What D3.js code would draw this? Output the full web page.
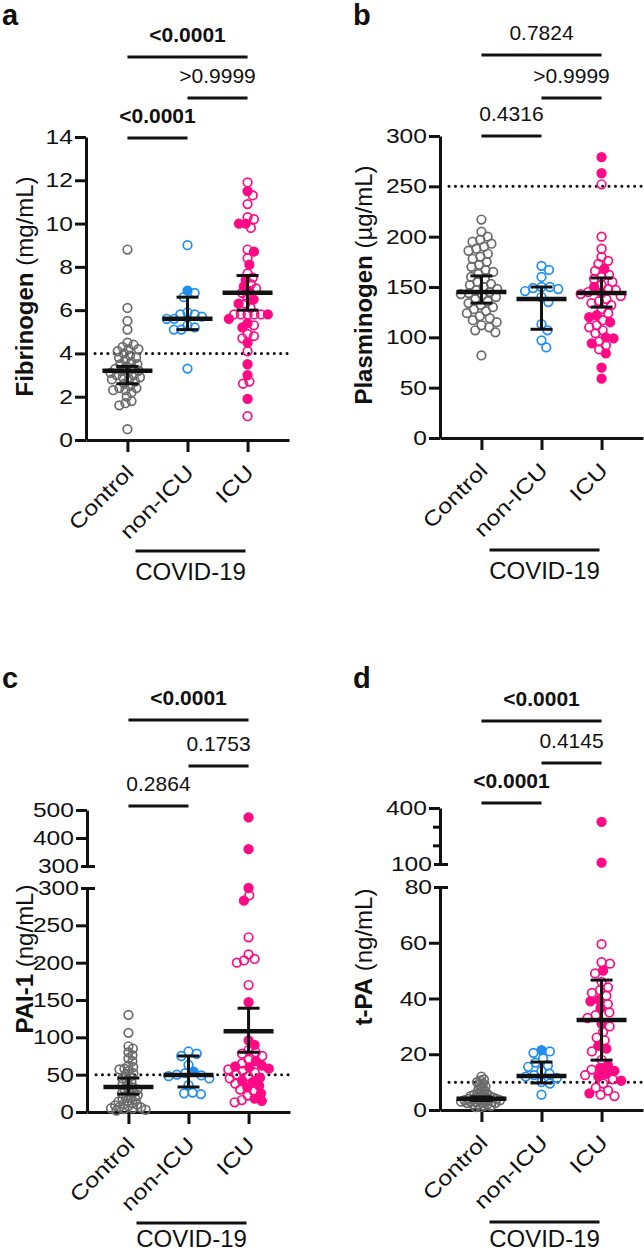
<!DOCTYPE html>
<html><head><meta charset="utf-8">
<script src="https://cdn.jsdelivr.net/npm/d3@7"></script>
<style>body{margin:0;background:#fff} svg{display:block} text{font-family:Arial,"Liberation Sans",sans-serif;fill:#111}</style>
</head><body>
<svg id="chart" width="644" height="1253"></svg>
<script>
const categories = ["Control", "non-ICU", "ICU"];

// ---- panel a: Fibrinogen (mg/mL)
const fibControl = [8.8,6.1,5.5,5.1,4.5,4.4,4.3,4.2,4.2,4.1,4.0,3.9,3.8,3.8,3.7,3.6,3.5,3.5,3.4,3.3,3.3,3.2,3.2,3.1,3.1,3.0,3.0,2.9,2.9,2.8,2.8,2.7,2.6,2.5,2.4,2.4,2.3,2.3,2.2,2.0,1.8,1.7,1.6,0.5];
const fibNonICU = [9.0,6.8,6.6,5.9,5.8,5.8,5.7,5.6,5.6,5.3,5.2,5.1,5.1,3.3];
const fibNonICUFilled = [6.9];
const fibICU = [11.9,11.3,10.9,10.3,10.2,9.8,8.8,8.4,7.7,7.5,7.2,7.0,6.8,6.6,6.3,6.1,5.8,5.8,5.8,5.8,5.8,5.3,4.9,4.8,4.7,4.1,2.7,2.6,1.1];
const fibICUFilled = [11.5,10.0,10.0,8.7,8.1,7.4,7.1,6.9,6.5,6.3,5.8,5.6,5.4,5.2,4.5,3.5,3.0,1.9];
const fibCenter = [3.2, 5.6, 6.8];
const fibLow = [2.6, 5.1, 6.0];
const fibHigh = [3.4, 6.6, 7.6];
const fibTicks = [0,2,4,6,8,10,12,14];
const fibRef = 4;
const fibP = ["<0.0001", ">0.9999", "<0.0001"];   // ICU vs Control, ICU vs non-ICU, non-ICU vs Control
const fibPBold = [true, false, true];

// ---- panel b: Plasminogen (µg/mL)
const plgControl = [217,205,200,197,195,193,190,188,186,183,180,178,175,172,170,167,165,163,160,158,155,153,152,150,148,147,145,144,143,142,140,138,136,134,132,130,128,126,124,121,119,117,115,112,110,107,105,82];
const plgNonICU = [171,167,160,150,150,149,148,146,140,135,113,107,97,90];
const plgNonICUFilled = [];
const plgICU = [252,200,188,180,176,173,166,162,160,158,155,152,148,147,145,143,141,138,136,134,132,128,124,117,112,110,107,104,96,92,88];
const plgICUFilled = [279,263,168,150,144,122,120,115,100,99,94,84,70,59];
const plgCenter = [145, 138, 144];
const plgLow = [134, 108, 130];
const plgHigh = [161, 150, 159];
const plgTicks = [0,50,100,150,200,250,300];
const plgRef = 250;
const plgP = ["0.7824", ">0.9999", "0.4316"];
const plgPBold = [false, false, false];

// ---- panel c: PAI-1 (ng/mL)
const paiControl = [130,106,88,85,80,76,72,68,62,60,58,57,55,52,50,47,45,42,40,38,35,33,31,30,28,26,25,23,22,20,18,17,15,14,12,11,10,9,8,7,6,5,5,4,3,2];
const paiNonICU = [81,78,75,63,52,50,49,48,45,36,26,25,24];
const paiNonICUFilled = [54];
const paiICU = [290,234,211,205,203,200,170,83,80,78,75,70,65,57,55,53,50,48,45,38,30,28,22,16,13];
const paiICUFilled = [474,360,300,283,147,96,90,68,62,61,60,58,46,42,40,35,33,25,18,15];
const paiCenter = [33.5, 49.5, 108];
const paiLow = [24, 33.5, 80];
const paiHigh = [45.5, 75, 139];
const paiTicksLower = [0,50,100,150,200,250,300];
const paiTicksUpper = [300,400,500];
const paiRef = 50;
const paiP = ["<0.0001", "0.1753", "0.2864"];
const paiPBold = [true, false, false];

// ---- panel d: t-PA (ng/mL)
const tpaControl = [12,11,10.5,10,9.5,9,8.5,8,7.5,7,6.5,6,6,5.5,5.5,5,5,5,4.5,4.5,4.5,4,4,4,4,3.5,3.5,3.5,3.5,3,3,3,3,3,2.5,2.5,2.5,2,2,2,1.5,1.5,1,1];
const tpaNonICU = [21,20.5,18.5,17,16,15.5,14,13,12.5,12,11.5,10,9.5,5.5];
const tpaNonICUFilled = [21.5];
const tpaICU = [59.5,53,52.5,49,46,44,43,42,41,38,35,34,33,30,28,26,25,21,18,14.5,12.5,11,9.5,8,7,5.5,5];
const tpaICUFilled = [326,107,50,39.5,39,36.5,31,23,22,16,15,14,13,12,10.5,6];
const tpaCenter = [4.0, 12.2, 32.3];
const tpaLow = [3.4, 9.7, 17.9];
const tpaHigh = [4.7, 17.2, 46.6];
const tpaTicksLower = [0,20,40,60,80];
const tpaTicksUpper = [100,200,300,400];
const tpaUpperLabels = [100,400];
const tpaRef = 10;
const tpaP = ["<0.0001", "0.4145", "<0.0001"];
const tpaPBold = [true, false, true];

// ---------------------------------------------------------------
const svg = d3.select("#chart");
const colors = ["#6b6b6b", "#1f8ef1", "#ff0a85"];
const FONT = 'Arial,"Liberation Sans",sans-serif';

function stretch(sel, k){
  sel.each(function(){
    const len = this.getComputedTextLength();
    if (len > 0) d3.select(this).attr("textLength", len*k).attr("lengthAdjust","spacingAndGlyphs");
  });
}

function swarmOnce(pts, md){
  const sorted = pts.slice().sort((a,b)=>a.py-b.py);
  const placed = [];
  sorted.forEach(p=>{
    const near = placed.filter(q=>Math.abs(q.py-p.py) < md);
    const cands = [0];
    near.forEach(q=>{
      const dx = Math.sqrt(md*md - (q.py-p.py)**2);
      cands.push(q.off+dx, q.off-dx);
    });
    cands.sort((a,b)=>Math.abs(a)-Math.abs(b));
    let best = 0;
    for (const c of cands){
      if (near.every(q=> (q.off-c)**2 + (q.py-p.py)**2 >= md*md - 0.01)) { best = c; break; }
    }
    p.off = best;
    placed.push(p);
  });
  return sorted;
}
function swarm(pts, md0, maxHalf){
  let md = md0, res;
  while (true){
    res = swarmOnce(pts, md);
    const w = d3.max(res, d=>Math.abs(d.off)) || 0;
    if (w <= maxHalf || md <= 2.5) break;
    md -= 0.25;
  }
  return res;
}

function drawPanel(c){
  const g = svg.append("g");
  const x = d3.scalePoint().domain(categories).range([c.ax, c.ax+203]).padding(0.69);
  const lower = d3.scaleLinear().domain(c.lowerDomain).range(c.lowerRange);
  const upper = c.upperDomain ? d3.scaleLinear().domain(c.upperDomain).range(c.upperRange) : null;
  const y = v => (upper && v > c.lowerDomain[1]) ? upper(v) : lower(v);
  const y0 = c.lowerRange[0];

  // panel letter
  g.append("text").attr("x", c.letterX).attr("y", c.letterY)
    .style("font-size","29px").style("font-weight","bold").text(c.letter);

  // y title
  const t = g.append("text").attr("transform",`translate(${c.titleX},${(c.lowerRange[0]+(upper?c.upperRange[1]:c.lowerRange[1]))/2 - 2}) rotate(-90)`)
    .attr("text-anchor","middle").style("font-size","24px");
  t.append("tspan").style("font-weight","bold").text(c.titleBold);
  t.append("tspan").text(" " + c.titleUnit);

  // reference dotted line
  g.append("line").attr("x1", c.ax+9).attr("x2", c.ax+203).attr("y1", y(c.ref)).attr("y2", y(c.ref))
    .attr("stroke","#111").attr("stroke-width",3).attr("stroke-linecap","round").attr("stroke-dasharray","0.1 6.3");

  // y axis lower
  const axL = g.append("g").attr("transform",`translate(${c.ax},0)`)
    .call(d3.axisLeft(lower).tickValues(c.lowerTicks).tickSize(11).tickSizeOuter(0).tickPadding(2).tickFormat(d3.format("d")));
  const axes = [axL];
  if (upper){
    const axU = g.append("g").attr("transform",`translate(${c.ax},0)`)
      .call(d3.axisLeft(upper).tickValues(c.upperTicks).tickSize(11).tickSizeOuter(0).tickPadding(2)
        .tickFormat(d => (c.upperLabels ? c.upperLabels.includes(d) : true) ? d3.format("d")(d) : ""));
    axU.selectAll(".tick").filter(d => c.upperLabels && !c.upperLabels.includes(d)).select("line").attr("x2",-7);
    axU.selectAll(".tick").filter(d => d === c.upperDomain[0]).select("line").attr("x1",8).attr("x2",-6);
    axL.selectAll(".tick").filter(d => d === c.lowerDomain[1]).select("line").attr("x1",8).attr("x2",-6);
    axU.selectAll(".tick").filter(d => d === c.upperDomain[0]).select("text").attr("x",-8);
    axL.selectAll(".tick").filter(d => d === c.lowerDomain[1]).select("text").attr("x",-8);
    axes.push(axU);
  }
  axes.forEach(a=>{
    a.select(".domain").attr("stroke","#111").attr("stroke-width",3);
    a.selectAll(".tick line").attr("stroke","#111").attr("stroke-width",3);
    const tx = a.selectAll(".tick text").style("font-size","20.5px").style("font-family",FONT).attr("fill","#111");
    stretch(tx, 1.2);
  });

  // x axis
  const axX = g.append("g").attr("transform",`translate(0,${y0})`)
    .call(d3.axisBottom(x).tickSize(12).tickSizeOuter(0));
  axX.select(".domain").attr("stroke","#111").attr("stroke-width",3);
  axX.selectAll(".tick line").attr("stroke","#111").attr("stroke-width",3);
  const cl = axX.selectAll(".tick text").style("font-size","21px").style("font-family",FONT).attr("fill","#111")
    .attr("text-anchor","end").attr("dy",null).attr("y",0)
    .attr("transform","translate(7,34) rotate(-45)");
  stretch(cl, 1.2);

  // COVID-19 bracket
  const bc = x("non-ICU") + 3;
  g.append("line").attr("x1", bc-55).attr("x2", bc+55).attr("y1", c.covidLineY).attr("y2", c.covidLineY)
    .attr("stroke","#111").attr("stroke-width",3);
  g.append("text").attr("x", bc).attr("y", c.covidTextY).attr("text-anchor","middle")
    .style("font-size","24px").text("COVID-19");

  // points
  const groups = [
    {open:c.data[0], filled:[]},
    {open:c.data[1], filled:c.data[2]},
    {open:c.data[3], filled:c.data[4]}
  ];
  groups.forEach((grp,i)=>{
    const pts = grp.open.map(v=>({v, f:false, py:y(v)})).concat(grp.filled.map(v=>({v, f:true, py:y(v)})));
    const placed = swarm(pts, 8.5, 21);
    const cx = x(categories[i]);
    g.append("g").selectAll("circle").data(placed.sort((a,b)=>a.f-b.f)).join("circle")
      .attr("cx", d=>cx + d.off).attr("cy", d=>d.py).attr("r", 4.3)
      .attr("fill", d=> d.f ? colors[i] : "none")
      .attr("stroke", colors[i]).attr("stroke-width", 1.7);
  });

  // mean + error bars
  categories.forEach((cat,i)=>{
    const cx = x(cat);
    g.append("line").attr("x1",cx).attr("x2",cx).attr("y1",y(c.low[i])).attr("y2",y(c.high[i]))
      .attr("stroke","#111").attr("stroke-width",3);
    [c.low[i], c.high[i]].forEach(v=>{
      g.append("line").attr("x1",cx-11).attr("x2",cx+11).attr("y1",y(v)).attr("y2",y(v))
        .attr("stroke","#111").attr("stroke-width",3);
    });
    g.append("line").attr("x1",cx-25).attr("x2",cx+25).attr("y1",y(c.center[i])).attr("y2",y(c.center[i]))
      .attr("stroke","#111").attr("stroke-width",4.5);
  });

  // significance bars
  const pairs = [[0,2],[1,2],[0,1]];
  pairs.forEach((pr,k)=>{
    const x1 = x(categories[pr[0]]), x2 = x(categories[pr[1]]);
    const ly = c.sigY[k];
    g.append("line").attr("x1",x1).attr("x2",x2).attr("y1",ly).attr("y2",ly)
      .attr("stroke","#111").attr("stroke-width",3);
    g.append("text").attr("x",(x1+x2)/2).attr("y",ly-15).attr("text-anchor","middle")
      .style("font-size","21px").style("font-weight", c.pBold[k] ? "bold" : "normal").text(c.p[k]);
  });
}

drawPanel({letter:"a", letterX:2, letterY:25, ax:86, titleX:33, titleBold:"Fibrinogen", titleUnit:"(mg/mL)",
  lowerDomain:[0,14], lowerRange:[440,137], lowerTicks:fibTicks, ref:fibRef,
  data:[fibControl, fibNonICU, fibNonICUFilled, fibICU, fibICUFilled],
  center:fibCenter, low:fibLow, high:fibHigh, p:fibP, pBold:fibPBold, sigY:[57,98,138], covidLineY:551, covidTextY:580});

drawPanel({letter:"b", letterX:353, letterY:25, ax:440, titleX:372, titleBold:"Plasminogen", titleUnit:"(\u00b5g/mL)",
  lowerDomain:[0,300], lowerRange:[438,136], lowerTicks:plgTicks, ref:plgRef,
  data:[plgControl, plgNonICU, plgNonICUFilled, plgICU, plgICUFilled],
  center:plgCenter, low:plgLow, high:plgHigh, p:plgP, pBold:plgPBold, sigY:[55,98,136], covidLineY:550, covidTextY:579});

drawPanel({letter:"c", letterX:2, letterY:688, ax:87, titleX:33, titleBold:"PAI-1", titleUnit:"(ng/mL)",
  lowerDomain:[0,300], lowerRange:[1112,888], lowerTicks:paiTicksLower,
  upperDomain:[300,500], upperRange:[866,810], upperTicks:paiTicksUpper, ref:paiRef,
  data:[paiControl, paiNonICU, paiNonICUFilled, paiICU, paiICUFilled],
  center:paiCenter, low:paiLow, high:paiHigh, p:paiP, pBold:paiPBold, sigY:[720,766,806], covidLineY:1223, covidTextY:1247});

drawPanel({letter:"d", letterX:353, letterY:688, ax:440, titleX:372, titleBold:"t-PA", titleUnit:"(ng/mL)",
  lowerDomain:[0,80], lowerRange:[1110,887], lowerTicks:tpaTicksLower,
  upperDomain:[100,400], upperRange:[864,808], upperTicks:tpaTicksUpper, upperLabels:tpaUpperLabels, ref:tpaRef,
  data:[tpaControl, tpaNonICU, tpaNonICUFilled, tpaICU, tpaICUFilled],
  center:tpaCenter, low:tpaLow, high:tpaHigh, p:tpaP, pBold:tpaPBold, sigY:[721,763,803], covidLineY:1222, covidTextY:1247});
</script>
</body></html>
